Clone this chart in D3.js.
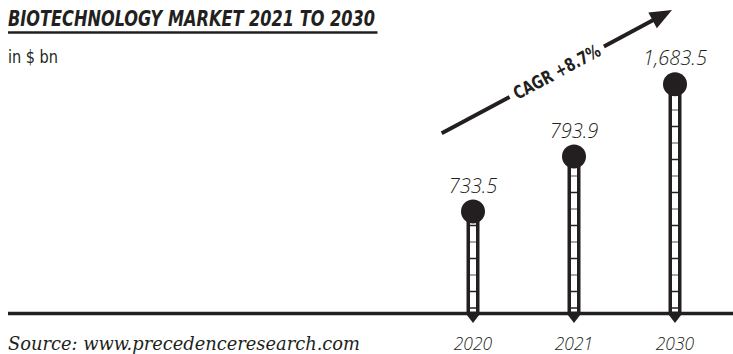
<!DOCTYPE html>
<meta charset="utf-8">
<script src="https://d3js.org/d3.v7.min.js"></script>
<style>
  body { margin: 0; background: #fff; }
  svg { display: block; }
</style>
<div id="chart"></div>
<script>
  // data
  var years = ["2020", "2021", "2030"];
  var values = [733.5, 793.9, 1683.5];
  var valueLabels = ["733.5", "793.9", "1,683.5"];
  var cagrLabel = "CAGR +8.7%";

  var width = 733, height = 354;
  var ink = "#231f20";
  var baseY = 313.5;
  var condensed = "'DejaVu Sans Condensed', 'DejaVu Sans', sans-serif";
  var italicSans = "'Open Sans', Roboto, 'Liberation Sans', sans-serif";

  var svg = d3.select("#chart").append("svg")
    .attr("width", width)
    .attr("height", height);

  // x positions of the thermometer bars
  var x = d3.scalePoint()
    .domain(years)
    .range([473, 675]);

  // the source draws the bars out of proportion, so a broken (piecewise) scale is used
  var y = d3.scaleLinear()
    .domain([700, 800, 1700])
    .range([242, 151, 83]);

  var data = years.map(function(d, i) {
    return {year: d, value: values[i], label: valueLabels[i]};
  });

  // title + underline
  svg.append("text")
    .attr("x", 8).attr("y", 25.5)
    .attr("font-family", condensed)
    .attr("font-weight", "bold")
    .attr("font-style", "italic")
    .attr("font-size", 21)
    .attr("textLength", 367)
    .attr("lengthAdjust", "spacingAndGlyphs")
    .attr("fill", ink)
    .text("BIOTECHNOLOGY MARKET 2021 TO 2030");
  svg.append("line")
    .attr("x1", 8).attr("x2", 377.5)
    .attr("y1", 32.5).attr("y2", 32.5)
    .attr("stroke", ink).attr("stroke-width", 2.5);

  svg.append("text")
    .attr("x", 8).attr("y", 63)
    .attr("font-family", condensed)
    .attr("font-size", 17)
    .attr("textLength", 50)
    .attr("lengthAdjust", "spacingAndGlyphs")
    .attr("fill", ink)
    .text("in $ bn");

  // baseline
  svg.append("line")
    .attr("x1", 8).attr("x2", width)
    .attr("y1", baseY).attr("y2", baseY)
    .attr("stroke", ink).attr("stroke-width", 3.5);

  var bars = svg.selectAll(".bar")
    .data(data)
    .enter().append("g")
    .attr("class", "bar");

  // stem
  bars.append("rect")
    .attr("x", function(d) { return x(d.year) - 6.5; })
    .attr("y", function(d) { return y(d.value); })
    .attr("width", 13)
    .attr("height", function(d) { return baseY - y(d.value); })
    .attr("fill", ink);
  bars.append("rect")
    .attr("x", function(d) { return x(d.year) - 3; })
    .attr("y", function(d) { return y(d.value); })
    .attr("width", 6)
    .attr("height", function(d) { return baseY - 2 - y(d.value); })
    .attr("fill", "#fff");

  // rungs
  bars.each(function(d) {
    var g = d3.select(this);
    var top = y(d.value) + 12;
    for (var k = 0; ; k++) {
      var ry = baseY - 5.5 - 16.5 * k;
      if (ry < top) break;
      g.append("line")
        .attr("x1", x(d.year) - 3).attr("x2", x(d.year) + 3)
        .attr("y1", ry).attr("y2", ry)
        .attr("stroke", (k === 0 || k % 2 === 1) ? ink : "#8a8a8a")
        .attr("stroke-width", 1.5);
    }
  });

  // bulb
  bars.append("circle")
    .attr("cx", function(d) { return x(d.year); })
    .attr("cy", function(d) { return y(d.value); })
    .attr("r", 12)
    .attr("fill", ink);

  // tick triangle under the baseline
  bars.append("path")
    .attr("d", function(d) {
      var cx = x(d.year);
      return "M" + (cx - 6.5) + "," + (baseY + 1) + "L" + (cx + 6.5) + "," + (baseY + 1) + "L" + cx + "," + (baseY + 9.5) + "Z";
    })
    .attr("fill", ink);

  // value labels
  bars.append("text")
    .attr("x", function(d) { return x(d.year); })
    .attr("y", function(d) { return y(d.value) - 19; })
    .attr("text-anchor", "middle")
    .attr("font-family", italicSans)
    .attr("font-weight", 300)
    .attr("font-style", "italic")
    .attr("font-size", 20)
    .attr("fill", ink)
    .text(function(d) { return d.label; });

  // year labels
  bars.append("text")
    .attr("x", function(d) { return x(d.year); })
    .attr("y", 350)
    .attr("text-anchor", "middle")
    .attr("font-family", italicSans)
    .attr("font-weight", 300)
    .attr("font-style", "italic")
    .attr("font-size", 17.5)
    .attr("fill", ink)
    .text(function(d) { return d.year; });

  // source
  svg.append("text")
    .attr("x", 8).attr("y", 350)
    .attr("font-family", "'DejaVu Serif Condensed', 'DejaVu Serif', serif")
    .attr("font-style", "italic")
    .attr("font-size", 18)
    .attr("textLength", 352)
    .attr("lengthAdjust", "spacingAndGlyphs")
    .attr("fill", ink)
    .text("Source: www.precedenceresearch.com");

  // CAGR arrow
  var ax0 = 441.7, ay0 = 133.3, ax1 = 672, ay1 = 10;
  var len = Math.sqrt((ax1 - ax0) * (ax1 - ax0) + (ay1 - ay0) * (ay1 - ay0));
  var ang = Math.atan2(ay1 - ay0, ax1 - ax0) * 180 / Math.PI;
  var arrow = svg.append("g")
    .attr("transform", "translate(" + ax0 + "," + ay0 + ") rotate(" + ang + ")");
  arrow.append("line")
    .attr("x1", 0).attr("x2", 77).attr("y1", 0).attr("y2", 0)
    .attr("stroke", ink).attr("stroke-width", 4);
  arrow.append("line")
    .attr("x1", 184).attr("x2", len - 18).attr("y1", 0).attr("y2", 0)
    .attr("stroke", ink).attr("stroke-width", 4);
  arrow.append("path")
    .attr("d", "M" + len + ",0L" + (len - 22) + ",-9L" + (len - 22) + ",9Z")
    .attr("fill", ink);
  arrow.append("text")
    .attr("x", 130.5).attr("y", 0)
    .attr("dy", "0.36em")
    .attr("text-anchor", "middle")
    .attr("font-family", condensed)
    .attr("font-weight", "bold")
    .attr("font-size", 18)
    .attr("textLength", 96)
    .attr("lengthAdjust", "spacingAndGlyphs")
    .attr("fill", ink)
    .text(cagrLabel);
</script>
